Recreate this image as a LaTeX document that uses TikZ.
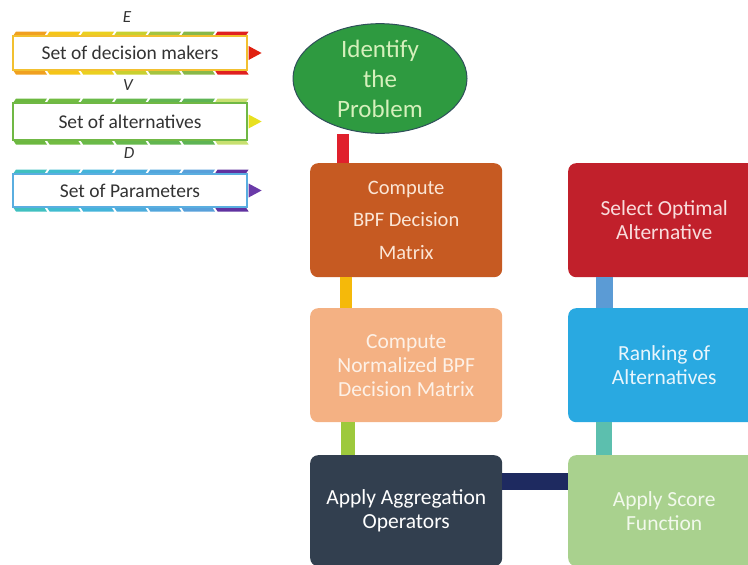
\documentclass[tikz,border=0pt]{standalone}
\usepackage{fontspec}
\setmainfont{Carlito}
\usetikzlibrary{shapes.geometric,calc}

% palette
\definecolor{ellfill}{HTML}{2E9A40}
\definecolor{elldraw}{HTML}{2F4F5A}
\definecolor{elltext}{HTML}{D6F0BC}
\definecolor{boxA}{HTML}{C65A22}
\definecolor{boxAt}{HTML}{FBE6D6}
\definecolor{boxB}{HTML}{F4B183}
\definecolor{boxBt}{HTML}{FDF1E7}
\definecolor{boxC}{HTML}{323F4F}
\definecolor{boxD}{HTML}{A9D18E}
\definecolor{boxDt}{HTML}{F2F9EC}
\definecolor{boxE}{HTML}{29A9E1}
\definecolor{boxEt}{HTML}{E8F5FC}
\definecolor{boxF}{HTML}{C1202B}
\definecolor{boxFt}{HTML}{F9DCDC}
\definecolor{lnRed}{HTML}{E0202C}
\definecolor{lnYel}{HTML}{F5B90A}
\definecolor{lnGrn}{HTML}{9DC93C}
\definecolor{lnNavy}{HTML}{1E2A60}
\definecolor{lnTeal}{HTML}{5CBFAE}
\definecolor{lnBlue}{HTML}{5B9BD5}
% stripe colours
\definecolor{sa1}{HTML}{F0A020}\definecolor{sa2}{HTML}{F5C518}\definecolor{sa3}{HTML}{EBD020}
\definecolor{sa4}{HTML}{C8D030}\definecolor{sa5}{HTML}{A4C440}\definecolor{sa6}{HTML}{88B848}
\definecolor{sa7}{HTML}{E02020}
\definecolor{sb1}{HTML}{6CB840}\definecolor{sb2}{HTML}{72BC42}\definecolor{sb3}{HTML}{6ABA48}
\definecolor{sb4}{HTML}{66B84C}\definecolor{sb5}{HTML}{62B650}\definecolor{sb6}{HTML}{5EB454}
\definecolor{sb7}{HTML}{C8E070}
\definecolor{sc1}{HTML}{40C0C0}\definecolor{sc2}{HTML}{40BCD0}\definecolor{sc3}{HTML}{44B4DA}
\definecolor{sc4}{HTML}{4CACDC}\definecolor{sc5}{HTML}{52A6DC}\definecolor{sc6}{HTML}{58A0DA}
\definecolor{sc7}{HTML}{6032A0}
\definecolor{bordA}{HTML}{F2C030}
\definecolor{bordB}{HTML}{70B845}
\definecolor{bordC}{HTML}{5AAEE0}
\definecolor{arrA}{HTML}{E02010}
\definecolor{arrB}{HTML}{E8E020}
\definecolor{arrC}{HTML}{6A3AA8}
\definecolor{txt}{HTML}{333333}

% a striped label bar: top edge, bottom edge, seven stripe colours
\newcommand\stripebar[3]{%
  \foreach \c [count=\i from 0] in {#3} {
    \pgfmathsetmacro\xa{12+\i*33.6}
    \fill[\c] (\xa+1,#1) -- (\xa+4,#1-4.5) -- (\xa+35,#1-4.5) -- (\xa+32,#1) -- cycle;
    \fill[\c] (\xa+1,#2) -- (\xa+4,#2+4.5) -- (\xa+35,#2+4.5) -- (\xa+32,#2) -- cycle;
  }}

\begin{document}
\begin{tikzpicture}[x=1pt,y=-1pt,
  barbox/.style={draw, line width=1.2pt, fill=white, minimum width=234pt,
    inner sep=0pt, text=txt, font=\fontsize{19.5}{22}\selectfont},
  lbl/.style={text=txt, font=\fontsize{17}{20}\selectfont\itshape, inner sep=0pt},
  flowbox/.style={rounded corners=8pt, minimum width=192pt, inner sep=0pt,
    align=center, anchor=north west, font=\fontsize{21.5}{24}\selectfont},
  conn/.style={line cap=butt}]
\useasboundingbox (0,0) rectangle (748,565);
\clip (0,0) rectangle (748,565);

% ---- input bars ----
\node[lbl] (lE) at (127,17) {E};
\stripebar{36}{70}{sa1,sa2,sa3,sa4,sa5,sa6,sa7}
\node[barbox, draw=bordA, minimum height=34pt] (s1) at (130,53) {Set of decision makers};
\fill[arrA] (s1.east) ++(1,-7) -- ++(13,7) -- ++(-13,7) -- cycle;

\node[lbl] (lV) at (128,85) {V};
\stripebar{103}{140}{sb1,sb2,sb3,sb4,sb5,sb6,sb7}
\node[barbox, draw=bordB, minimum height=37pt] (s2) at (130,121.5) {Set of alternatives};
\fill[arrB] (s2.east) ++(1,-7) -- ++(13,7) -- ++(-13,7) -- cycle;

\node[lbl] (lD) at (129,153) {D};
\stripebar{174}{207}{sc1,sc2,sc3,sc4,sc5,sc6,sc7}
\node[barbox, draw=bordC, minimum height=33pt] (s3) at (130,190.5) {Set of Parameters};
\fill[arrC] (s3.east) ++(1,-7) -- ++(13,7) -- ++(-13,7) -- cycle;

% ---- process boxes ----
\node[ellipse, draw=elldraw, line width=1pt, fill=ellfill, minimum width=174pt,
  minimum height=107pt, inner sep=0pt, align=center, text=elltext,
  font=\fontsize{25}{30}\selectfont] (ell) at (380,78.5) {Identify\\the\\Problem};

\node[flowbox, fill=boxA, text=boxAt, minimum height=114pt,
  font=\fontsize{20.5}{32.5}\selectfont] (b1) at (310,163) {Compute\\BPF Decision\\Matrix};
\node[flowbox, fill=boxB, text=boxBt, minimum height=114pt] (b2) at (310,308)
  {Compute\\Normalized BPF\\Decision Matrix};
\node[flowbox, fill=boxC, text=white, minimum height=111pt] (b3) at (310,455)
  {Apply Aggregation\\Operators};
\node[flowbox, fill=boxD, text=boxDt, minimum height=111pt] (b4) at (568,455)
  {Apply Score\\Function};
\node[flowbox, fill=boxE, text=boxEt, minimum height=114pt] (b5) at (568,308)
  {Ranking of\\Alternatives};
\node[flowbox, fill=boxF, text=boxFt, minimum height=114pt] (b6) at (568,163)
  {Select Optimal\\Alternative};

% ---- connectors ----
\draw[conn, lnRed, line width=12pt] ([xshift=33pt]b1.north west) coordinate (k1)
  -- (k1 |- ell.south);
\draw[conn, lnYel, line width=12pt] ([xshift=36pt]b1.south west) coordinate (k2)
  -- (k2 |- b2.north);
\draw[conn, lnGrn, line width=14pt] ([xshift=38pt]b2.south west) coordinate (k3)
  -- (k3 |- b3.north);
\draw[conn, lnNavy, line width=17pt] ([yshift=-26pt]b3.north east) coordinate (k4)
  -- (k4 -| b4.west);
\draw[conn, lnTeal, line width=16pt] ([xshift=36pt]b4.north west) coordinate (k5)
  -- (k5 |- b5.south);
\draw[conn, lnBlue, line width=17pt] ([xshift=36.5pt]b5.north west) coordinate (k6)
  -- (k6 |- b6.south);
\end{tikzpicture}
\end{document}
